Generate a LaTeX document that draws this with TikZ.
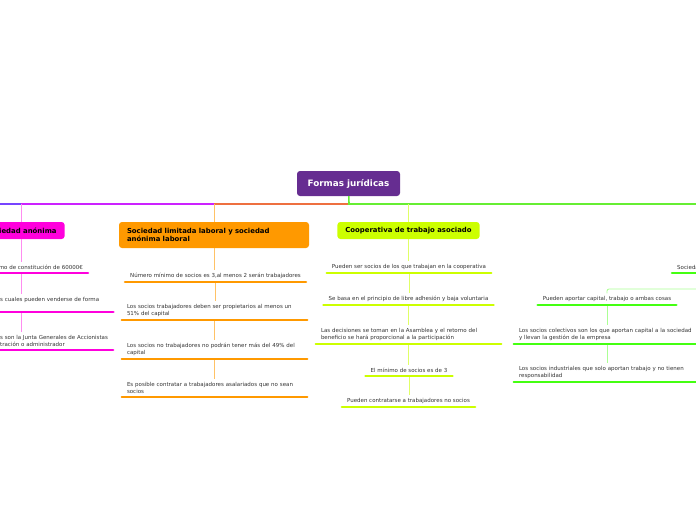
\documentclass[tikz,border=0pt]{standalone}
\usepackage{fontspec}
\setmainfont{DejaVu Sans}
\usepackage{xcolor}
\usepackage{tikz}
\usetikzlibrary{positioning,calc}

\definecolor{rootc}{HTML}{662D91}
\definecolor{magc}{HTML}{FF00DD}
\definecolor{orac}{HTML}{FF9900}
\definecolor{yelc}{HTML}{CCFF00}
\definecolor{grnc}{HTML}{44FF11}

\begin{document}
\begin{tikzpicture}[x=1pt,y=-1pt,every node/.style={font=\fontsize{5.5}{7}\selectfont},
  topic/.style={rounded corners=3pt,inner xsep=8pt,inner ysep=0pt,minimum height=17pt,
    font=\fontsize{6.9}{8}\selectfont\bfseries},
  leaf/.style={inner xsep=5pt,inner ysep=3pt,text=black!80,align=left},
  trunk/.style={line width=1.6pt},
  twig/.style={line width=0.8pt},
  uline/.style={line width=2.6pt,line cap=round}]
  \useasboundingbox (0,0) rectangle (696,520);
  \clip (0,0) rectangle (696,520);
  % root
  \node[topic,fill=rootc,text=white,minimum width=103pt,minimum height=25pt,
    font=\fontsize{8.8}{10}\selectfont\bfseries] (root) at (348.5,183.5) {Formas jurídicas};
  \coordinate (hub) at (349,204);
  \coordinate (wend) at (-5,204);
  \coordinate (eend) at (701,204);
  % sociedad anonima
  \node[topic,fill=magc,minimum width=84pt] (sa) at (21,230.5) {Sociedad anónima};
  \node[leaf,anchor=south east] (sa1) at (88,273) {mo de constitución de 60000€};
  \node[leaf,anchor=south west,text width=108pt] (sa2) at (-5,312) {s cuales pueden venderse de forma\\\mbox{}};
  \node[leaf,anchor=south west] (sa3) at (-5,350) {s son la Junta Generales de Accionistas\\tración o administrador};
  % sociedad limitada laboral
  \node[topic,fill=orac,text width=174pt,minimum height=26pt,align=left] (sll) at (214,235)
    {Sociedad limitada laboral y sociedad\\anónima laboral};
  \node[leaf,anchor=south] (sll1) at (215.5,282) {Número mínimo de socios es 3,al menos 2 serán trabajadores};
  \node[leaf,anchor=south,text width=175pt] (sll2) at (214.5,320) {Los socios trabajadores deben ser propietarios al menos un\\51\% del capital};
  \node[leaf,anchor=south,text width=175pt] (sll3) at (214.5,359) {Los socios no trabajadores no podrán tener más del 49\% del\\capital};
  \node[leaf,anchor=south,text width=175pt] (sll4) at (214.5,397) {Es posible contratar a trabajadores asalariados que no sean\\socios};
  % cooperativa
  \node[topic,fill=yelc] (coop) at (408.5,230.5) {Cooperativa de trabajo asociado};
  \node[leaf,anchor=south] (ct1) at (409,273) {Pueden ser socios de los que trabajan en la cooperativa};
  \node[leaf,anchor=south] (ct2) at (408.5,305) {Se basa en el principio de libre adhesión y baja voluntaria};
  \node[leaf,anchor=south,text width=175pt] (ct3) at (408.5,344) {Las decisiones se toman en la Asamblea y el retorno del\\beneficio se hará proporcional a la participación};
  \node[leaf,anchor=south] (ct4) at (409,376) {El mínimo de socios es de 3};
  \node[leaf,anchor=south] (ct5) at (408.5,407) {Pueden contratarse a trabajadores no socios};
  % sociedad colectiva
  \node[leaf,anchor=south west] (sc) at (672,273) {Sociedad colectiva};
  \coordinate (scin) at (701,289);
  \node[leaf,anchor=south] (sc1) at (607,305) {Pueden aportar capital, trabajo o ambas cosas};
  \node[leaf,anchor=south,text width=176pt] (sc2) at (607,344) {Los socios colectivos son los que aportan capital a la sociedad\\y llevan la gestión de la empresa};
  \node[leaf,anchor=south,text width=176pt] (sc3) at (607,382) {Los socios industriales que solo aportan trabajo y no tienen\\responsabilidad};
  % branches
  \draw[trunk,color={rgb,255:red,119;green,68;blue,255}] (hub) -- (wend);
  \draw[trunk,color={rgb,255:red,204;green,34;blue,255}] (hub) -- (sa.north |- hub);
  \draw[trunk,color={rgb,255:red,238;green,112;blue,64}] (hub) -- (sll.north |- hub);
  \draw[trunk,color={rgb,255:red,102;green,238;blue,51}] (root) -- (hub) -- (eend);
  \draw[twig,magc!45] (sa.north |- hub) -- (sa);
  \draw[twig,orac!60] (sll.north |- hub) -- (sll);
  \draw[twig,yelc!60] (coop.north |- hub) -- (coop);
  \draw[twig,grnc!45,rounded corners=2pt] (scin) -| (sc1.north);
  % twigs
  \foreach \a/\b in {sa/sa1,sa1/sa2,sa2/sa3}
    \draw[twig,magc!45] (sa.south |- \a.south) -- (sa.south |- \b.north);
  \foreach \a/\b in {sll/sll1,sll1/sll2,sll2/sll3,sll3/sll4}
    \draw[twig,orac!60] (\a.south) -- (\a.south |- \b.north);
  \foreach \a/\b in {coop/ct1,ct1/ct2,ct2/ct3,ct3/ct4,ct4/ct5}
    \draw[twig,yelc!60] (\a.south) -- (\a.south |- \b.north);
  \foreach \a/\b in {sc1/sc2,sc2/sc3}
    \draw[twig,grnc!45] (\a.south) -- (\a.south |- \b.north);
  % underlines
  \foreach \n in {sa1,sa2,sa3}
    \draw[uline,magc] (\n.south west) -- (\n.south east);
  \foreach \n in {sll1,sll2,sll3,sll4}
    \draw[uline,orac] (\n.south west) -- (\n.south east);
  \foreach \n in {ct1,ct2,ct3,ct4,ct5}
    \draw[uline,yelc] (\n.south west) -- (\n.south east);
  \foreach \n in {sc,sc1,sc2,sc3}
    \draw[uline,grnc] (\n.south west) -- (\n.south east);
\end{tikzpicture}
\end{document}
